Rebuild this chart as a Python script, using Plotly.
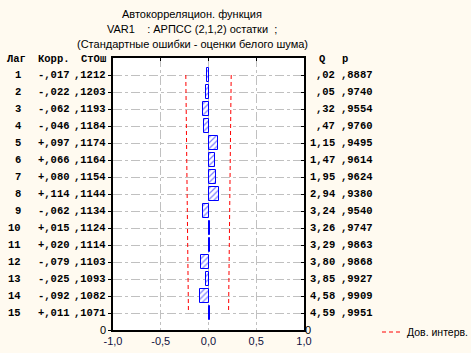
import plotly.graph_objects as go

# ---- data ----
lags = list(range(1, 16))
corr = [-0.017, -0.022, -0.062, -0.046, 0.097, 0.066, 0.080, 0.114,
        -0.062, 0.015, 0.020, -0.079, -0.025, -0.092, 0.011]
se = [0.1212, 0.1203, 0.1193, 0.1184, 0.1174, 0.1164, 0.1154, 0.1144,
      0.1134, 0.1124, 0.1114, 0.1103, 0.1093, 0.1082, 0.1071]
q_stat = [0.02, 0.05, 0.32, 0.47, 1.15, 1.47, 1.95, 2.94,
          3.24, 3.26, 3.29, 3.80, 3.85, 4.58, 4.59]
p_val = [0.8887, 0.9740, 0.9554, 0.9760, 0.9495, 0.9614, 0.9624, 0.9380,
         0.9540, 0.9747, 0.9863, 0.9868, 0.9927, 0.9909, 0.9951]
x_ticks = [-1.0, -0.5, 0.0, 0.5, 1.0]
x_ticktext = ["-1,0", "-0,5", "0,0", "0,5", "1,0"]
title_lines = ["Автокорреляцион. функция",
               "VAR1    : АРПСС (2,1,2) остатки  ;",
               "(Стандартные ошибки - оценки белого шума)"]
legend_name = "Дов. интерв."

W, H = 471, 353
L, R, T, B = 113, 304, 58, 330


def px(x):
    return (x - L) / (R - L)


def py(y):
    return (B - y) / (B - T)


def fmt_corr(v):
    s = "+" if v >= 0 else "-"
    return s + ",%03d" % round(abs(v) * 1000)


def fmt_frac(v, n):
    return "," + ("%0*d" % (n, round(v * 10 ** n)))


def fmt_q(v):
    if v < 1:
        return "," + "%02d" % round(v * 100)
    return ("%.2f" % v).replace(".", ",")


fig = go.Figure()

fig.add_trace(go.Bar(
    x=corr, y=lags, orientation="h", width=0.82,
    marker=dict(color="white", line=dict(color="#0000FF", width=1),
                pattern=dict(shape="/", fgcolor="#0000FF", size=4, solidity=0.3)),
    showlegend=False, hoverinfo="skip"))

conf = [1.96 * s for s in se]
red_line = dict(color="#FF0000", width=1, dash="4px,3px")
fig.add_trace(go.Scatter(x=[-c for c in conf], y=lags, mode="lines",
                         line=red_line, name=legend_name, showlegend=False))
fig.add_trace(go.Scatter(x=conf, y=lags, mode="lines",
                         line=red_line, name=legend_name, showlegend=False))
# dummy trace to draw the secondary (inside tick) axes
fig.add_trace(go.Scatter(x=[None], y=[None], xaxis="x2", yaxis="y2",
                         showlegend=False, hoverinfo="skip"))

mono = dict(family="Liberation Mono", size=10.5, color="#000000")
ann = []
# headers
ann.append(dict(text="<b>Лаг</b>", x=px(28), xanchor="right"))
ann.append(dict(text="<b>Корр.</b>", x=px(72), xanchor="right"))
ann.append(dict(text="<b>СтОш</b>", x=px(108), xanchor="right"))
ann.append(dict(text="<b>Q</b>", x=px(327), xanchor="right"))
ann.append(dict(text="<b>p</b>", x=px(350), xanchor="right"))
annotations = []
for a in ann:
    a.update(xref="paper", yref="paper", y=py(59), yanchor="middle",
             showarrow=False, font=mono)
    annotations.append(a)

for i, lag in enumerate(lags):
    cols = [(str(lag), 23), (fmt_corr(corr[i]), 72), (fmt_frac(se[i], 4), 108),
            (fmt_q(q_stat[i]), 337), (fmt_frac(p_val[i], 4), 375)]
    for txt, xr in cols:
        annotations.append(dict(text="<b>" + txt + "</b>", x=px(xr), xanchor="right",
                                xref="paper", yref="y", y=lag, yanchor="middle",
                                showarrow=False, font=mono))

for txt, yy in zip(title_lines, [14, 29, 44]):
    annotations.append(dict(text=txt, x=px(192), y=py(yy), xref="paper", yref="paper",
                            xanchor="center", yanchor="middle", showarrow=False,
                            font=dict(family="Liberation Sans", size=11, color="#000000")))

# legend (sample line + label)
annotations.append(dict(text=legend_name, x=px(405), y=py(332), xref="paper", yref="paper",
                        xanchor="left", yanchor="middle", showarrow=False,
                        font=dict(family="Liberation Sans", size=10.5, color="#000000")))
shapes = [dict(type="line", xref="paper", yref="paper", x0=px(382), x1=px(402),
               y0=py(332), y1=py(332), line=red_line)]

grid = dict(showgrid=True, gridcolor="#C0C0C0", griddash="dashdot", gridwidth=1)
ytickvals = lags + [16]
yticktext = [""] * 15 + ["0"]

fig.update_layout(
    width=W, height=H,
    margin=dict(l=L, r=W - R, t=T, b=H - B, autoexpand=False),
    paper_bgcolor="#FFFAF0", plot_bgcolor="#FFFFFF",
    bargap=0, showlegend=False,
    xaxis=dict(range=[-1, 1], tickvals=x_ticks, ticktext=x_ticktext, ticks="",
               showline=True, linecolor="#000000", linewidth=1.5, mirror=True,
               zeroline=False, tickfont=dict(family="Liberation Sans", size=11, color="#101040"),
               **grid),
    yaxis=dict(range=[16, 0], tickvals=ytickvals, ticktext=yticktext, ticks="outside",
               ticklen=3, tickcolor="#000000", showline=True, linecolor="#000000",
               linewidth=1.5, mirror=True, zeroline=False,
               tickfont=dict(family="Liberation Sans", size=11, color="#000000"), **grid),
    xaxis2=dict(range=[-1, 1], overlaying="x", side="top", tickvals=[-0.5, 0, 0.5],
                ticks="inside", ticklen=3, tickcolor="#000000", showticklabels=False,
                showgrid=False, zeroline=False, showline=False),
    yaxis2=dict(range=[16, 0], overlaying="y", side="right", tickvals=ytickvals,
                ticktext=yticktext, ticks="inside", ticklen=3, tickcolor="#000000",
                showgrid=False, zeroline=False, showline=False,
                tickfont=dict(family="Liberation Sans", size=11, color="#000000")),
    annotations=annotations,
    shapes=shapes,
)

fig.write_html("out.html")
